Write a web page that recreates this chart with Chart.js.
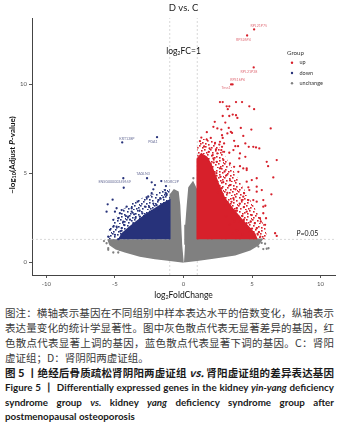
<!DOCTYPE html>
<html>
<head>
<meta charset="utf-8">
<script src="https://cdn.jsdelivr.net/npm/chart.js@4.4.0/dist/chart.umd.min.js"></script>
<style>
body { margin: 0; background: #fff; width: 345px; }
#wrap { position: relative; width: 345px; height: 304px; }
.ln { width: 329px; margin-left: 5px; white-space: nowrap; text-align: justify; text-align-last: justify; }
.zh { font-family: "Noto Sans CJK SC", sans-serif; font-size: 10.5px; line-height: 15.3px; color: #3a3a3a; }
.zhb { font-family: "Noto Sans CJK SC", sans-serif; font-size: 10.5px; line-height: 14.5px; font-weight: bold; color: #1a1a1a; }
.en { font-family: Lato, "Noto Sans", sans-serif; font-size: 9.8px; line-height: 14.5px; font-weight: bold; color: #1a1a1a; }
.last { text-align-last: left; }
#cap { margin-top: 0.6px; }
</style>
</head>
<body>
<div id="wrap"><canvas id="volcano"></canvas></div>
<div id="cap">
  <div class="ln zh">图注：横轴表示基因在不同组别中样本表达水平的倍数变化，纵轴表示</div>
  <div class="ln zh">表达量变化的统计学显著性。图中灰色散点代表无显著差异的基因，红</div>
  <div class="ln zh">色散点代表显著上调的基因，蓝色散点代表显著下调的基因。C：肾阳</div>
  <div class="ln zh last">虚证组；D：肾阴阳两虚证组。</div>
  <div class="ln zhb">图 5 丨绝经后骨质疏松肾阴阳两虚证组 <i>vs.</i> 肾阳虚证组的差异表达基因</div>
  <div class="ln en">Figure 5 丨 Differentially expressed genes in the kidney <i>yin-yang</i> deficiency</div>
  <div class="ln en">syndrome group <i>vs.</i> kidney <i>yang</i> deficiency syndrome group after</div>
  <div class="ln en last">postmenopausal osteoporosis</div>
</div>
<script>
// axes
const xTicks = [-10, -5, 0, 5, 10];
const yTicks = [0, 5, 10];
const xLimits = [-11.05, 11.05];
const yLimits = [-0.7, 13.7];
const fcCut = 1;
const pCut = 1.3;

// [log2FC, -log10(adj p)]
const upGenes = [
  [5.15,13.06],[4.64,12.72],[5.12,10.93],[3.47,9.98],[3.58,9.98],
  [2.66,8.99],[2.86,8.99],[3.83,8.99],[4.27,8.99],[3.15,8.75],[3.34,8.75],[4.80,8.75],[5.15,8.59],[3.23,8.59],
  [2.86,8.21],[3.34,8.21],[3.59,8.29],[3.83,8.25],[3.93,8.10],[3.05,7.84],[2.28,7.88],[2.47,7.51],[2.76,7.45],
  [3.30,7.54],[3.45,7.32],[3.20,7.23],[3.54,7.26],[4.18,7.54],[4.95,7.45],[6.36,7.51],[1.69,6.89],[1.99,6.98],
  [2.30,6.70],[2.81,7.13],[2.86,6.98],[2.66,6.76],[2.96,6.67],[2.61,6.61],[2.81,6.48],[3.69,6.82],[3.78,6.52],
  [3.98,6.52],[4.36,7.09],[4.51,6.67],[4.76,6.48],[5.29,6.45],[5.53,6.39],[2.37,6.34],[2.47,6.11],[1.84,6.20],
  [2.13,6.02],[2.76,6.30],[2.96,6.20],[3.34,6.15],[3.64,6.30],[4.12,6.11],[4.07,5.83],[4.51,5.92],[6.07,5.64],
  [6.80,5.74],[6.17,5.40],[1.40,5.83],[1.79,5.74],[2.18,5.83],[2.42,5.64],[2.91,5.74],[3.39,5.55],[3.69,5.36],
  [4.12,5.40],[4.61,5.27],[6.55,4.77],[6.41,3.82],[5.09,6.48],[4.61,5.18],[4.98,4.62],[5.34,4.25],[5.34,3.97],
  [4.73,4.21],[4.42,3.88],[5.82,3.50],[5.09,3.50],[4.73,3.50],[4.25,3.50],[2.18,7.60],[4.61,4.53],[5.34,4.72],
  [4.80,4.06],[5.71,4.06],[4.36,3.69],[5.34,3.41],[5.82,3.13],[4.61,2.85],[4.98,2.66],[5.58,2.48],[5.95,2.11],
  [5.34,1.92],[4.85,1.73],[6.68,1.64],[4.12,2.29],[3.88,3.04],[3.64,3.60],[3.39,4.34],[3.15,4.90],[4.00,5.08],
  [4.36,5.27],[2.66,5.27],[2.79,4.16],[3.03,3.22],[3.39,2.11],[5.97,3.18],[5.82,2.76],[6.02,2.48],[5.64,2.29],
  [6.80,1.49],[3.90,1.80],[4.30,1.55],[4.50,2.00],[3.60,1.60],[5.10,1.45],[5.50,1.70],[4.00,2.60],[4.40,2.40],
  [3.70,2.30],[5.20,2.20],[4.90,2.30],[5.60,1.45],[2.40,5.00],[2.90,4.50],[3.20,3.90],[3.50,3.40],[3.90,2.90],
  [4.30,2.60],[4.60,2.20],[2.20,5.60],[1.90,6.40],[1.50,6.50],[1.20,6.80],[3.00,5.10],[2.70,4.80],[3.40,4.60],
  [3.80,4.10],[4.10,3.30],[4.40,3.10],[3.10,2.60],[3.60,2.80],[5.00,1.90],[5.40,1.60],[2.50,3.90],[1.70,7.30],
  [1.30,7.00]
];
const downGenes = [
  [-4.47,6.73],[-1.93,7.02],[-4.39,4.72],[-2.66,4.72],[-4.36,4.19],[-1.62,4.56],[-1.28,4.28],[-2.32,4.49],
  [-2.20,4.10],[-5.17,3.52],[-5.53,3.26],[-3.34,3.41],[-2.69,3.65],[-1.84,3.50],[-1.47,3.65],[-4.88,3.04],
  [-3.78,3.04],[-2.08,4.34],[-2.32,3.88],[-1.35,4.06],[-1.23,3.78],[-2.57,3.69],[-5.61,2.85],[-5.00,2.85],
  [-4.51,2.94],[-4.15,3.13],[-3.78,2.85],[-2.81,3.13],[-1.96,3.22],[-4.76,2.48],[-5.12,2.39],[-4.39,2.29],
  [-4.03,2.57],[-4.88,2.01],[-5.36,1.83],[-4.51,1.92],[-5.00,1.55],[-4.15,1.64],[-5.49,1.45],[-3.66,2.20],
  [-3.18,2.57],[-2.45,2.85],[-1.84,2.94],[-4.64,2.76],[-5.12,2.01],[-4.76,1.31],[-3.90,2.40],[-3.50,2.50],
  [-4.30,2.10],[-3.00,2.75],[-2.50,3.10],[-4.60,1.75],[-3.20,2.90],[-2.20,3.30],[-1.70,3.60],[-1.30,3.90],
  [-3.60,2.70],[-4.20,2.60]
];
const unchangedGenes = [
  [-5.49,0.71],[-5.12,0.56],[-4.76,0.56],[-4.39,0.71],[-5.61,1.08],[-5.49,0.80],[-4.64,0.71],[-4.76,0.99],
  [5.09,1.08],[5.82,0.75],[6.07,0.77],[5.46,0.89],[5.70,1.10],[6.20,0.80],[0.72,4.72],[0.84,3.50],[0.67,3.50],
  [-0.90,3.80],[-0.60,3.90],[0.50,4.10],[-5.80,1.20],[5.95,1.05]
];
// outlines of the dense clouds (core) and of their sparser rims
const upCloud = [[1.0,1.3],[1.0,5.8],[1.3,6.1],[1.7,5.9],[2.0,5.5],[2.25,5.0],[2.55,4.4],[3.0,3.6],[3.6,3.0],[4.2,2.45],[4.8,1.95],[5.2,1.6],[5.35,1.3]];
const upRim = [[1.0,1.3],[1.0,6.6],[1.5,7.0],[2.2,6.8],[2.8,6.3],[3.3,5.6],[3.9,4.8],[4.5,4.0],[5.1,3.2],[5.6,2.5],[6.0,1.9],[6.1,1.3]];
const downCloud = [[-4.7,1.3],[-4.5,1.6],[-4.0,1.95],[-3.4,2.3],[-2.8,2.65],[-2.1,3.0],[-1.5,3.3],[-1.0,3.5],[-1.0,1.3]];
const downRim = [[-5.6,1.3],[-5.4,1.9],[-5.0,2.5],[-4.4,3.0],[-3.6,3.4],[-2.8,3.7],[-2.0,3.9],[-1.4,4.1],[-1.0,4.1],[-1.0,1.3]];
const grayCloudLeft = [[-5.51,1.3],[-5.36,0.99],[-4.93,0.77],[-4.27,0.60],[-3.18,0.37],[-2.08,0.23],[-0.99,0.12],[-0.04,0.04],[-0.15,0.99],[-0.22,2.11],[-0.29,3.22],[-0.40,3.95],[-0.69,4.06],[-0.97,3.78],[-0.97,1.3]];
const grayCloudRight = [[0.04,0.04],[0.99,0.12],[2.3,0.26],[3.76,0.43],[4.85,0.71],[5.44,0.99],[5.73,1.3],[1.0,1.3],[1.0,4.0],[0.69,4.5],[0.4,4.2],[0.29,3.22],[0.18,2.11],[0.11,0.99]];

const labelNames = ["RPL21P75", "RPS26P4", "RPL21P28", "RPS16P6", "Tnss1", "KRT128P", "PGA1", "TAGLN3", "ENSG00000249659", "MORC2P"];
const labelPoints = [[5.15,13.06],[4.64,12.72],[5.12,10.93],[3.58,9.98],[3.47,9.98],[-4.47,6.73],[-1.93,7.02],[-2.66,4.72],[-4.39,4.72],[-1.62,4.56]];

const RED = "#d7202b", BLUE = "#27327a", GRAY = "#808080";
const FONT = "Lato";

const pts = arr => arr.map(p => ({ x: p[0], y: p[1] }));

// speckle texture for the sparse rims of the clouds
function speckle(color) {
    const c = document.createElement("canvas");
    c.width = 14; c.height = 14;
    const g = c.getContext("2d");
    g.fillStyle = color;
    [[1,1],[6,2],[11,0],[3,5],[9,6],[13,8],[0,9],[5,10],[10,12],[7,13],[2,12],[12,4],
     [4,3],[8,9],[1,7],[12,11],[6,7],[9,3]].forEach(d => {
        g.fillRect(d[0], d[1], 1.6, 1.6);
    });
    return document.getElementById("volcano").getContext("2d").createPattern(c, "repeat");
}

function cloud(arr, color, order, fillStyle) {
    return { data: pts(arr), showLine: true, fill: "shape", backgroundColor: fillStyle || color,
        borderColor: fillStyle ? "rgba(0,0,0,0)" : color, borderWidth: fillStyle ? 0 : 1.5,
        pointRadius: 0, tension: 0, order: order };
}
function dots(arr, color, order) {
    return { data: pts(arr), backgroundColor: color, borderWidth: 0, pointRadius: 1.15, order: order };
}
function cutLine(a, b) {
    return { data: pts([a, b]), showLine: true, borderColor: "#cfcfcf", borderWidth: 0.8, borderDash: [2, 2],
        pointRadius: 0, fill: false, order: 5 };
}

function fontStr(p) {
    return (p.style || "normal") + " " + (p.weight || "normal") + " " + p.size + "px " + FONT;
}
function richText(ctx, parts, cx, cy, color) {
    let w = 0;
    parts.forEach(p => { ctx.font = fontStr(p); p.w = ctx.measureText(p.t).width; w += p.w; });
    let x = cx - w / 2;
    ctx.fillStyle = color;
    ctx.textAlign = "left";
    ctx.textBaseline = "middle";
    parts.forEach(p => { ctx.font = fontStr(p); ctx.fillText(p.t, x, cy + (p.dy || 0)); x += p.w; });
}

// offsets of the gene names from their points (px)
const labelOffsets = [[4.7,-4],[-3.7,4.3],[-4.7,4],[5,-4.7],[-5,3.7],[4.7,-4],[-4.2,4.3],[-4,-4.3],[-8.6,3.7],[10,0.5]];

const textPlugin = {
    id: "texts",
    afterDraw(chart) {
        const ctx = chart.ctx;
        const xs = chart.scales.x, ys = chart.scales.y;
        ctx.save();
        richText(ctx, [{ t: "D vs. C", size: 9.5 }], 183.5, 7.7, "#222");
        richText(ctx, [{ t: "log", size: 8.5 }, { t: "2", size: 5.5, dy: 2 }, { t: "FC=1", size: 8.5 }], 183.5, 51.7, "#111");
        richText(ctx, [{ t: "P", size: 7, style: "italic" }, { t: "=0.05", size: 7 }], 307.5, 234, "#111");
        richText(ctx, [{ t: "log", size: 8.5 }, { t: "2", size: 5.5, dy: 2 }, { t: "FoldChange", size: 8.5 }],
            (chart.chartArea.left + chart.chartArea.right) / 2, 295.7, "#111");
        ctx.save();
        ctx.translate(12, 155);
        ctx.rotate(-Math.PI / 2);
        richText(ctx, [{ t: "\u2212log", size: 8, weight: "bold" }, { t: "10", size: 5.5, weight: "bold", dy: 2 },
            { t: "(Adjust ", size: 8, weight: "bold" }, { t: "P", size: 8, weight: "bold", style: "italic" },
            { t: "-value)", size: 8, weight: "bold" }], 0, 0, "#111");
        ctx.restore();

        // gene names
        labelNames.forEach((name, i) => {
            const p = labelPoints[i];
            const px = xs.getPixelForValue(p[0]) + labelOffsets[i][0];
            const py = ys.getPixelForValue(p[1]) + labelOffsets[i][1];
            richText(ctx, [{ t: name, size: 3.6 }], px, py, p[0] > 0 ? "#e0707a" : "#6b7099");
        });

        // legend
        ctx.font = "6.2px " + FONT;
        ctx.fillStyle = "#333";
        ctx.textAlign = "left";
        ctx.textBaseline = "middle";
        ctx.fillText("Group", 287, 53);
        [["up", RED], ["down", BLUE], ["unchange", GRAY]].forEach((g, i) => {
            const y = 62.7 + i * 10.3;
            ctx.fillStyle = g[1];
            ctx.beginPath();
            ctx.arc(292, y, 1.2, 0, Math.PI * 2);
            ctx.fill();
            ctx.fillStyle = "#333";
            ctx.font = "5.5px " + FONT;
            ctx.fillText(g[0], 299.5, y);
        });
        ctx.restore();
    }
};

const ctx = document.getElementById("volcano").getContext("2d");
const chart = new Chart(ctx, {
    type: "scatter",
    data: {
        datasets: [
            dots(upGenes, RED, 1),
            cloud(upCloud, RED, 1),
            cloud(upRim, RED, 1, speckle(RED)),
            dots(downGenes, BLUE, 2),
            cloud(downCloud, BLUE, 2),
            cloud(downRim, BLUE, 2, speckle(BLUE)),
            dots(unchangedGenes, GRAY, 3),
            cloud(grayCloudLeft, GRAY, 3),
            cloud(grayCloudRight, GRAY, 3),
            cutLine([-fcCut, yLimits[0]], [-fcCut, yLimits[1]]),
            cutLine([fcCut, yLimits[0]], [fcCut, yLimits[1]]),
            cutLine([xLimits[0], pCut], [xLimits[1], pCut])
        ]
    },
    options: {
        responsive: true,
        maintainAspectRatio: false,
        animation: false,
        layout: { padding: { top: 18, right: 10, left: 0, bottom: 0 } },
        plugins: { legend: { display: false }, tooltip: { enabled: false } },
        scales: {
            x: {
                type: "linear", min: xLimits[0], max: xLimits[1],
                afterBuildTicks: s => { s.ticks = xTicks.map(v => ({ value: v })); },
                afterFit: s => { s.height = 29; },
                grid: { drawOnChartArea: false, tickLength: 3, color: "#555" },
                border: { color: "#444", width: 1 },
                ticks: { font: { size: 6, family: FONT }, color: "#555", padding: 2, maxRotation: 0 }
            },
            y: {
                type: "linear", min: yLimits[0], max: yLimits[1],
                afterBuildTicks: s => { s.ticks = yTicks.map(v => ({ value: v })); },
                afterFit: s => { s.width = 32; },
                grid: { drawOnChartArea: false, tickLength: 3, color: "#555" },
                border: { color: "#444", width: 1 },
                ticks: { font: { size: 6, family: FONT }, color: "#555", padding: 2 }
            }
        }
    },
    plugins: [textPlugin]
});
</script>
</body>
</html>
